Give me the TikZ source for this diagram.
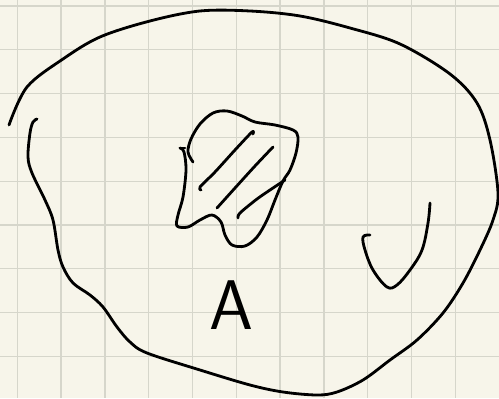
\documentclass[tikz,border=0pt]{standalone}
\usepackage{tikz}
\definecolor{paper}{HTML}{F7F5EA}
\definecolor{rule}{HTML}{D6D6CB}
\tikzset{
  pen/.style={line width=1.6pt, line cap=round, line join=round},
  gridln/.style={draw=rule, line width=0.7pt},
}

\begin{document}
\begin{tikzpicture}[x=0.02cm, y=-0.02cm]
  \fill[paper] (0,0) rectangle (499,398);
  \useasboundingbox (0,0) rectangle (499,398);
  % grid
  \foreach \x in {17.3,61.1,104.9,148.7,192.5,236.3,280.1,323.9,367.7,411.5,455.3}
    \draw[gridln] (\x,0) -- (\x,398);
  \foreach \y in {6,49.8,93.6,137.4,181.2,225,268.8,312.6,356.4}
    \draw[gridln] (0,\y) -- (499,\y);
  % outer loop
  \draw[pen] plot[smooth, tension=0.55] coordinates {(9,125) (27,87) (63,59) (100,37) (150,21)
    (200,11) (250,11) (300,16) (350,28) (400,44) (450,74) (477,103) (490,140) (498,193)
    (493,220) (480,250) (463,283) (443,313) (417,340) (390,360) (363,380) (337,392)
    (317,395) (283,392) (250,385) (200,370) (147,353) (130,342) (117,327) (103,307)
    (90,295) (73,283) (63,267) (58,250) (53,220) (45,200) (32,173) (28,157) (30,133)
    (33,122) (37,119)};
  % hatched blob
  \draw[pen] plot[smooth, tension=0.55] coordinates {(193,162) (188,152) (191,139) (200,124)
    (213,113) (227,111) (242,116) (255,122) (275,125) (293,130) (298,137) (296,153)
    (290,170) (283,181) (275,200) (267,220) (257,237) (245,246) (232,245) (225,235)
    (221,222) (212,215) (200,220) (188,227) (177,226) (178,215) (183,197) (186,170)
    (184,152) (180,148)};
  \draw[pen] (180,148) -- (185,148);
  \draw[pen] plot[smooth] coordinates {(201,190) (200,187) (215,172) (235,150) (252,132) (253,134)};
  \draw[pen] plot[smooth] coordinates {(217,208) (235,188) (255,166) (273,147)};
  \draw[pen] plot[smooth] coordinates {(238,218) (240,213) (257,199) (273,188) (285,180)};
  % cup
  \draw[pen] plot[smooth, tension=0.6] coordinates {(370,235) (363,237) (365,250) (373,270)
    (387,287) (397,285) (410,270) (422,250) (428,223) (430,203)};
  % label
  \node[font=\fontsize{40}{40}\sffamily, inner sep=0pt] (lblA) at (231,305) {A};
\end{tikzpicture}
\end{document}
